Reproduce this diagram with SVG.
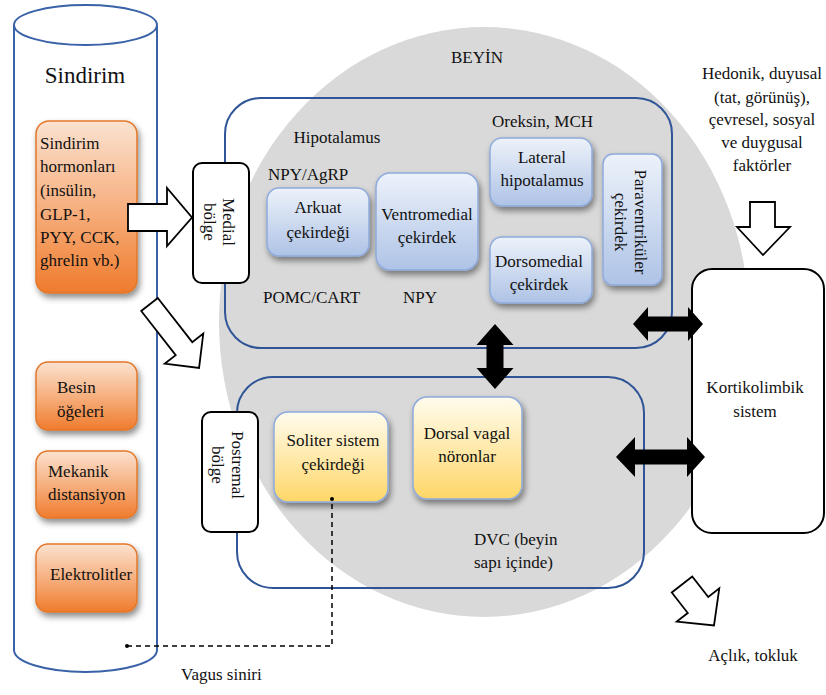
<svg xmlns="http://www.w3.org/2000/svg" width="826" height="695" viewBox="0 0 826 695" font-family="'Liberation Serif', 'Times New Roman', Times, 'DejaVu Serif', 'Noto Serif', serif">
<style>
text{font-family:"Liberation Serif","Times New Roman",Times,"DejaVu Serif","Noto Serif",serif;font-size:17px;fill:#111}
.c{text-anchor:middle}
.blu{fill:url(#gb);stroke:#8faadc;stroke-width:1.5}
.yel{fill:url(#gy);stroke:#8faadc;stroke-width:1.5}
.ora{fill:url(#go);stroke:#e2772a;stroke-width:1.5}
.reg{fill:none;stroke:#2f5597;stroke-width:2}
.wb{fill:#fff;stroke:#000;stroke-width:2}
.wa{fill:#fff;stroke:#000;stroke-width:1.8;stroke-linejoin:miter}
.ba{fill:#000}
</style>
<defs>
<linearGradient id="gb" x1="0" y1="0" x2="0" y2="1"><stop offset="0" stop-color="#edf2fa"/><stop offset="1" stop-color="#aec3e6"/></linearGradient>
<linearGradient id="gy" x1="0" y1="0" x2="0" y2="1"><stop offset="0" stop-color="#fffcee"/><stop offset="0.75" stop-color="#ffe08a"/><stop offset="1" stop-color="#fdd766"/></linearGradient>
<linearGradient id="go" x1="0" y1="0" x2="0" y2="1"><stop offset="0" stop-color="#fbe2d0"/><stop offset="0.55" stop-color="#f6ab78"/><stop offset="1" stop-color="#ef7b2c"/></linearGradient>
<filter id="sh" x="-20%" y="-20%" width="150%" height="160%"><feDropShadow dx="2" dy="4" stdDeviation="3" flood-color="#000" flood-opacity="0.45"/></filter>
</defs>

<g id="brain">
<ellipse cx="484" cy="322" rx="265" ry="295" fill="#d9d9d9"/>
<text class="c" x="477" y="63">BEYİN</text>
</g>

<g id="sindirim">
<path d="M14,25 L14,650 A71.5,22 0 0 0 157,650 L157,25" fill="#fff" stroke="#3a62a8" stroke-width="2"/>
<ellipse cx="85.5" cy="25" rx="71.5" ry="20" fill="#fff" stroke="#3a62a8" stroke-width="2"/>
<text class="c" x="85" y="83" style="font-size:23px">Sindirim</text>
</g>

<g id="hormonlar">
<rect class="ora" x="36" y="121" width="101" height="172" rx="13" filter="url(#sh)"/>
<text x="40" y="149">Sindirim</text>
<text x="40" y="172">hormonları</text>
<text x="40" y="196">(insülin,</text>
<text x="40" y="220">GLP-1,</text>
<text x="40" y="243">PYY, CCK,</text>
<text x="40" y="266">ghrelin vb.)</text>
</g>
<g id="besin">
<rect class="ora" x="36" y="362" width="101" height="68" rx="12" filter="url(#sh)"/>
<text x="57" y="393">Besin</text>
<text x="57" y="417">öğeleri</text>
</g>
<g id="mekanik">
<rect class="ora" x="36" y="451" width="101" height="67" rx="12" filter="url(#sh)"/>
<text x="48" y="477">Mekanik</text>
<text x="48" y="500">distansiyon</text>
</g>
<g id="elektrolit">
<rect class="ora" x="36" y="544" width="101" height="68" rx="12" filter="url(#sh)"/>
<text x="50" y="580">Elektrolitler</text>
</g>

<g id="hipotalamus">
<rect class="reg" x="225" y="98" width="447" height="250" rx="36"/>
<text class="c" x="337" y="143">Hipotalamus</text>
<text x="268" y="180">NPY/AgRP</text>
<text x="263" y="303">POMC/CART</text>
<text x="403" y="303">NPY</text>
<text x="492" y="127">Oreksin, MCH</text>
</g>
<g id="arkuat">
<rect class="blu" x="267" y="188" width="102" height="68" rx="12" filter="url(#sh)"/>
<text class="c" x="318" y="213">Arkuat</text>
<text class="c" x="318" y="238">çekirdeği</text>
</g>
<g id="ventromedial">
<rect class="blu" x="376" y="173" width="102" height="97" rx="14" filter="url(#sh)"/>
<text class="c" x="427" y="220">Ventromedial</text>
<text class="c" x="427" y="243">çekirdek</text>
</g>
<g id="lateral">
<rect class="blu" x="490" y="138" width="102" height="68" rx="12" filter="url(#sh)"/>
<text class="c" x="542" y="163">Lateral</text>
<text class="c" x="542" y="186">hipotalamus</text>
</g>
<g id="dorsomedial">
<rect class="blu" x="490" y="237" width="102" height="66" rx="12" filter="url(#sh)"/>
<text class="c" x="539" y="267">Dorsomedial</text>
<text class="c" x="539" y="290">çekirdek</text>
</g>
<g id="paraventrikuler">
<rect class="blu" x="603" y="154" width="59" height="131" rx="10" filter="url(#sh)"/>
<text class="c" transform="translate(635,222) rotate(90)"><tspan x="0" y="0">Paraventriküler</tspan><tspan x="0" y="20">çekirdek</tspan></text>
</g>
<g id="medial">
<rect class="wb" x="193" y="163" width="56" height="120" rx="9"/>
<text class="c" transform="translate(223,222) rotate(90)"><tspan x="0" y="0">Medial</tspan><tspan x="0" y="19">bölge</tspan></text>
</g>

<g id="dvc">
<rect class="reg" x="237" y="377" width="407" height="211" rx="36"/>
<text x="474" y="545">DVC (beyin</text>
<text x="474" y="568">sapı içinde)</text>
</g>
<g id="soliter">
<rect class="yel" x="274" y="412" width="114" height="90" rx="14" filter="url(#sh)"/>
<text class="c" x="333" y="446">Soliter sistem</text>
<text class="c" x="333" y="470">çekirdeği</text>
</g>
<g id="dorsalvagal">
<rect class="yel" x="413" y="397" width="109" height="102" rx="14" filter="url(#sh)"/>
<text class="c" x="467" y="439">Dorsal vagal</text>
<text class="c" x="467" y="462">nöronlar</text>
</g>
<g id="postremal">
<rect class="wb" x="202" y="412" width="56" height="120" rx="9"/>
<text class="c" transform="translate(232,465) rotate(90)"><tspan x="0" y="0">Postremal</tspan><tspan x="0" y="20">bölge</tspan></text>
</g>

<g id="kortikolimbik">
<rect class="wb" x="692" y="269" width="132" height="264" rx="20"/>
<text class="c" x="755" y="393">Kortikolimbik</text>
<text class="c" x="755" y="417">sistem</text>
</g>

<g id="hedonik">
<text class="c" x="762" y="79">Hedonik, duyusal</text>
<text class="c" x="762" y="103">(tat, görünüş),</text>
<text class="c" x="762" y="125">çevresel, sosyal</text>
<text class="c" x="762" y="148">ve duygusal</text>
<text class="c" x="762" y="171">faktörler</text>
</g>

<g id="aclik">
<text class="c" x="753" y="661">Açlık, tokluk</text>
</g>

<g id="vagus">
<text x="181" y="680">Vagus siniri</text>
</g>

<g id="connectors">
<path d="M127,646 H332 V499" fill="none" stroke="#000" stroke-width="1.5" stroke-dasharray="5,4"/>
<circle cx="127" cy="646" r="2"/>
<circle cx="332" cy="499" r="2"/>
<polygon class="wa" points="128,204 167,204 167,188 192,217.5 167,246 167,231 128,231"/>
<polygon class="wa" transform="translate(149.5,304.5) rotate(52)" points="0,-10.5 56,-10.5 56,-24.5 80.5,0 56,24.5 56,10.5 0,10.5"/>
<polygon class="wa" transform="translate(682,584.5) rotate(52)" points="0,-13 26,-13 26,-27 52,0 26,27 26,13 0,13"/>
<polygon class="wa" points="750,202 775,202 775,227 790,227 763,255 737,227 750,227"/>
<polygon class="ba" points="633,324 648,307 648,316.5 688,316.5 688,307 703,324 688,341 688,331.5 648,331.5 648,341"/>
<polygon class="ba" points="616,457 635,437 635,449.5 687,449.5 687,437 705,457 687,477 687,464.5 635,464.5 635,477"/>
<polygon class="ba" points="495,324 513.5,345 503.5,345 503.5,368 513.5,368 495,389 476.5,368 486.5,368 486.5,345 476.5,345"/>
</g>
</svg>
